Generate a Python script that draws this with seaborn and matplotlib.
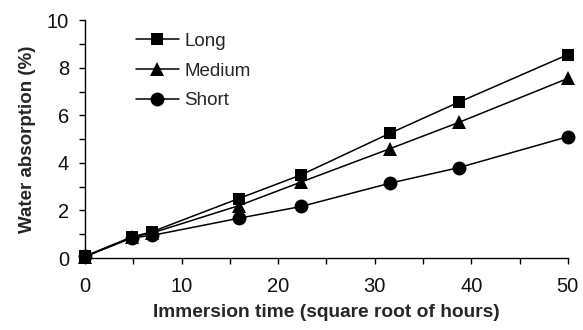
import numpy as np
import pandas as pd
import matplotlib
matplotlib.use("Agg")
import matplotlib.pyplot as plt
import seaborn as sns
from matplotlib.ticker import MultipleLocator

# Immersion time (square root of hours) and water absorption (%) per fibre length
time_sqrt_h = [0, 4.9, 6.9, 15.9, 22.4, 31.6, 38.7, 50]
long_fibre = [0.08, 0.9, 1.1, 2.5, 3.5, 5.25, 6.55, 8.55]
medium_fibre = [0.05, 0.88, 1.05, 2.2, 3.2, 4.6, 5.7, 7.55]
short_fibre = [0.08, 0.85, 0.95, 1.67, 2.17, 3.15, 3.8, 5.1]
series_names = ["Long", "Medium", "Short"]

df = pd.DataFrame({
    "time": time_sqrt_h * 3,
    "absorption": long_fibre + medium_fibre + short_fibre,
    "length": np.repeat(series_names, len(time_sqrt_h)),
})

sns.set_style("ticks")
plt.rcParams["font.family"] = ["Liberation Sans", "DejaVu Sans"]

fig = plt.figure(figsize=(5.83, 3.30), dpi=100)
ax = fig.add_axes([0.146, 0.218, 0.828, 0.721])

marker_map = {"Long": "s", "Medium": "^", "Short": "o"}
marker_size = {"s": 8.6, "^": 10.5, "o": 10.0}

sns.lineplot(
    data=df, x="time", y="absorption", hue="length", style="length",
    palette={n: "black" for n in series_names},
    markers=marker_map, dashes=False, markersize=9, linewidth=1.1,
    markeredgewidth=0, ax=ax, clip_on=False, legend=True,
)
for line in ax.lines:
    m = line.get_marker()
    if m in marker_size:
        line.set_markersize(marker_size[m])

ax.set_xlim(0, 50)
ax.set_ylim(0, 10)
ax.xaxis.set_major_locator(MultipleLocator(10))
ax.xaxis.set_minor_locator(MultipleLocator(5))
ax.yaxis.set_major_locator(MultipleLocator(2))
ax.yaxis.set_minor_locator(MultipleLocator(1))
ax.tick_params(which="both", direction="out", color="black", width=1.0,
               length=4.5, labelsize=14.5, labelcolor="#111111")
ax.tick_params(axis="x", which="major", pad=9)
ax.tick_params(axis="y", which="major", pad=7)
for side in ["top", "right"]:
    ax.spines[side].set_visible(False)
for side in ["left", "bottom"]:
    ax.spines[side].set_color("black")
    ax.spines[side].set_linewidth(1.0)

ax.set_xlabel("Immersion time (square root of hours)", fontsize=13.8,
              fontweight="bold", labelpad=6)
ax.set_ylabel("Water absorption (%)", fontsize=13.5, fontweight="bold",
              labelpad=8)

handles, labels = ax.get_legend_handles_labels()
for h in handles:
    m = h.get_marker()
    if m in marker_size:
        h.set_markersize(marker_size[m])
leg = ax.legend(handles, labels, title=None, loc="upper left",
                bbox_to_anchor=(0.105, 0.948), borderaxespad=0, borderpad=0,
                frameon=False, fontsize=13.5, handlelength=2.3,
                handletextpad=0.3, labelspacing=0.68)

fig.savefig("out.png", dpi=100)
